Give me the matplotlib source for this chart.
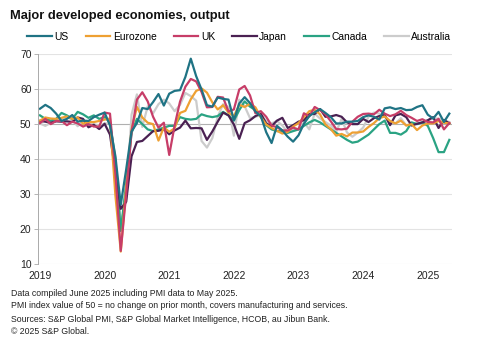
import numpy as np
from matplotlib import pyplot as plt

plt.rcParams['font.family'] = ['Liberation Sans', 'DejaVu Sans']

# monthly composite output PMI, Jan 2019 .. May 2025
us = [54.4, 55.5, 54.6, 53.0, 50.9, 51.5, 52.6, 50.7, 51.0, 50.9, 52.0, 52.7,
      53.3, 49.6, 40.9, 27.0, 37.0, 47.9, 50.3, 54.6, 54.3, 56.3, 58.6, 55.3,
      58.7, 59.5, 59.7, 63.5, 68.7, 63.7, 59.9, 55.4, 55.0, 57.6, 57.2, 57.0,
      51.1, 55.9, 57.7, 56.0, 53.6, 52.3, 47.7, 44.6, 49.5, 48.2, 46.4, 45.0,
      46.8, 50.1, 52.3, 53.4, 54.3, 53.2, 52.0, 50.2, 50.2, 50.7, 50.7, 50.9,
      52.0, 52.5, 52.1, 51.3, 54.5, 54.8, 54.3, 54.6, 54.0, 54.1, 54.9, 55.4,
      52.7, 51.6, 53.5, 50.6, 53.0]
eurozone = [51.0, 51.9, 51.6, 51.5, 51.8, 52.2, 51.5, 51.9, 50.1, 50.6, 50.6, 50.9,
            51.3, 51.6, 29.7, 13.6, 31.9, 48.5, 54.9, 51.9, 50.4, 50.0, 45.3, 49.1,
            47.8, 48.8, 53.2, 53.8, 57.1, 59.5, 60.2, 59.0, 56.2, 54.2, 55.4, 53.3,
            52.3, 55.5, 54.9, 55.8, 54.8, 52.0, 49.9, 48.9, 48.1, 47.3, 47.8, 49.3,
            50.3, 52.0, 53.7, 54.1, 52.8, 49.9, 48.6, 46.7, 47.2, 46.5, 47.6, 47.6,
            47.9, 49.2, 50.3, 51.7, 52.2, 50.9, 50.2, 51.0, 49.6, 50.0, 48.3, 49.6,
            50.2, 50.2, 50.9, 50.4, 50.2]
uk = [50.3, 51.5, 50.0, 50.9, 50.9, 49.7, 50.7, 50.2, 49.3, 50.0, 49.3, 49.3,
      53.3, 53.0, 36.0, 13.8, 30.0, 47.7, 57.0, 59.1, 56.5, 52.1, 49.0, 50.4,
      41.2, 49.6, 56.4, 60.7, 62.9, 62.2, 59.2, 54.8, 54.9, 57.8, 57.6, 53.6,
      54.2, 59.9, 60.9, 58.2, 53.1, 53.7, 52.1, 49.6, 49.1, 48.2, 48.2, 49.0,
      48.5, 53.1, 52.2, 54.9, 54.0, 52.8, 50.8, 48.6, 48.5, 48.7, 50.7, 52.1,
      52.9, 53.0, 52.8, 54.1, 53.0, 52.3, 52.8, 53.8, 52.6, 51.8, 50.9, 51.4,
      50.6, 50.5, 51.5, 48.5, 50.3]
japan = [50.9, 50.7, 50.4, 50.8, 50.7, 50.8, 50.6, 51.9, 51.5, 49.1, 49.8, 48.6,
         50.1, 47.0, 36.2, 25.8, 27.8, 40.8, 44.9, 45.2, 46.6, 48.0, 48.1, 48.5,
         47.1, 48.2, 49.0, 51.0, 48.8, 48.9, 48.8, 45.5, 47.9, 50.7, 53.3, 52.5,
         49.9, 45.8, 50.3, 51.1, 52.3, 53.0, 50.2, 49.4, 51.0, 51.8, 48.9, 49.7,
         50.7, 51.1, 52.9, 52.9, 54.3, 52.1, 52.2, 52.6, 52.1, 50.5, 50.0, 50.0,
         51.5, 50.6, 51.7, 52.3, 52.6, 49.7, 52.5, 52.9, 52.0, 49.6, 50.1, 50.5,
         51.1, 52.0, 48.9, 51.2, 50.2]
canada = [52.5, 51.5, 51.0, 51.5, 53.2, 52.5, 51.5, 53.5, 52.8, 51.8, 52.5, 51.5,
          52.0, 50.5, 40.0, 19.5, 33.0, 47.5, 51.5, 50.0, 48.5, 48.0, 48.5, 49.0,
          49.5, 49.5, 52.0, 51.5, 51.3, 51.5, 52.8, 52.3, 52.0, 52.3, 53.5, 52.5,
          51.0, 54.0, 56.5, 55.0, 54.0, 52.0, 49.7, 48.5, 48.0, 48.0, 47.5, 48.0,
          48.5, 49.5, 50.5, 51.2, 50.5, 49.5, 48.5, 47.5, 46.5, 45.5, 44.7, 45.0,
          46.0, 47.0, 48.5, 50.0, 51.0, 47.5, 47.5, 47.0, 48.0, 50.5, 50.0, 50.5,
          49.5, 46.0, 42.0, 42.0, 45.5]
australia = [50.2, 49.5, 50.4, 51.2, 51.6, 52.1, 51.2, 49.4, 50.8, 50.2, 50.0, 49.6,
             50.2, 50.2, 37.7, 21.7, 28.1, 52.7, 58.5, 49.2, 55.1, 53.1, 55.7, 57.0,
             55.9, 53.7, 55.5, 58.9, 58.0, 56.7, 45.2, 43.3, 46.0, 52.1, 55.7, 54.9,
             46.7, 57.0, 55.1, 51.7, 52.1, 52.6, 50.9, 50.2, 50.9, 49.6, 47.7, 48.3,
             48.5, 50.6, 48.5, 53.0, 51.6, 50.6, 49.6, 47.8, 51.5, 47.6, 46.4, 47.6,
             49.0, 52.1, 53.3, 53.0, 52.1, 50.7, 50.2, 51.7, 49.6, 50.2, 50.2, 50.2,
             51.1, 51.6, 51.6, 51.0, 50.6]

names = ['US', 'Eurozone', 'UK', 'Japan', 'Canada', 'Australia']
colors = ['#1f7384', '#eea032', '#c73d68', '#4a2152', '#2aa383', '#cccccc']
series = [us, eurozone, uk, japan, canada, australia]
years = [2019, 2020, 2021, 2022, 2023, 2024, 2025]
notes = ['Data compiled June 2025 including PMI data to May 2025.',
         'PMI index value of 50 = no change on prior month, covers manufacturing and services.',
         'Sources: S&P Global PMI, S&P Global Market Intelligence, HCOB, au Jibun Bank.',
         '\u00a9 2025 S&P Global.']

x = 2019 + np.arange(len(us)) / 12

fig = plt.figure(figsize=(4.89, 3.56), dpi=100)
ax = fig.add_axes([0.0787, 0.258, 0.845, 0.59])

for y in [10, 20, 30, 40, 60, 70]:
    ax.axhline(y, color='#e3e3e3', lw=0.8, zorder=0)
ax.axhline(50, color='#b0b0b0', lw=0.8, zorder=0)

# australia first so the grey sits underneath
order = [5, 4, 3, 1, 2, 0]
lines = {}
for i in order:
    lines[i], = ax.plot(x, series[i], color=colors[i], lw=1.6, label=names[i])

ax.set_xlim(2018.977, 2025.37)
ax.set_ylim(10, 70)
ax.set_yticks([10, 20, 30, 40, 50, 60, 70])
ax.set_xticks(years)
ax.tick_params(axis='y', length=3, width=0.6, color='#aaaaaa', labelsize=7.5, pad=2, labelcolor='#222222')
ax.tick_params(axis='x', length=0, labelsize=7.5, pad=5, labelcolor='#222222')
for s in ['top', 'right', 'bottom']:
    ax.spines[s].set_visible(False)
ax.spines['left'].set_color('#aaaaaa')
ax.spines['left'].set_linewidth(0.7)

fig.legend([lines[i] for i in range(6)], names, loc='center left',
           bbox_to_anchor=(0.056, 0.897), ncol=6, frameon=False,
           fontsize=7.4, handlelength=2.4, handletextpad=0.25,
           columnspacing=1.65, borderaxespad=0, borderpad=0)

fig.text(0.02, 0.955, 'Major developed economies, output', fontsize=9.3,
         fontweight='bold', color='#111111', va='center')
for k, t in enumerate(notes):
    fig.text(0.022, 1 - (293 + 13 * k) / 356, t, fontsize=6.35, color='#222222', va='center')

fig.savefig('out.png', dpi=100)
